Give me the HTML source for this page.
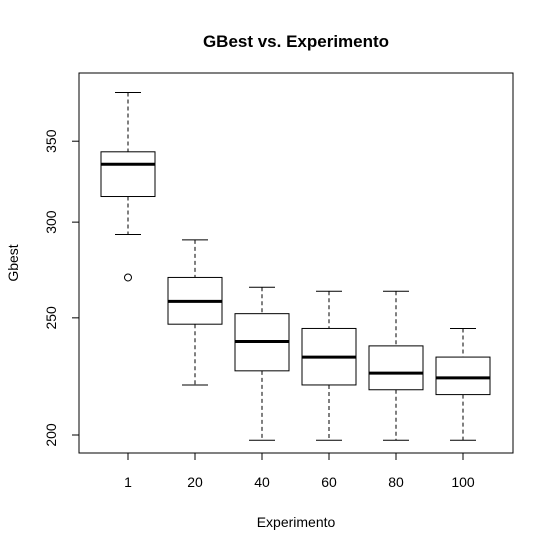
<!DOCTYPE html>
<html><head><meta charset="utf-8"><style>
body{margin:0;background:#fff;}
svg{display:block;font-family:"Liberation Sans",Arial,sans-serif;}
</style></head><body>
<svg id="chart" width="553" height="552" xmlns="http://www.w3.org/2000/svg">
<rect width="553" height="552" fill="#fff"/>
<text x="296" y="47" text-anchor="middle" font-size="17" font-weight="bold">GBest vs. Experimento</text>
<rect x="79" y="73" width="434" height="380" fill="none" stroke="#000"/>
<text x="296" y="527" text-anchor="middle" font-size="14">Experimento</text>
<text transform="translate(18,263) rotate(-90)" text-anchor="middle" font-size="14">Gbest</text>
<g id="g"></g>
</svg>
<script>
const categories=["1","20","40","60","80","100"];
const whiskHi=[384,290,265,263,263,245];
const q3=[343,270,252,245,237,232];
const med=[335,258,239,232,225,223];
const q1=[315,247,226,220,218,216];
const whiskLo=[293,220,198,198,198,198];
const outliers=[[270],[],[],[],[],[]];
const yTicks=[200,250,300,350];
const ns="http://www.w3.org/2000/svg";
const g=document.getElementById('g');
function y(v){return 435-525*Math.log(v/200);}
function x(i){return 128+67*i;}
function mk(t,a){const e=document.createElementNS(ns,t);for(const k in a)e.setAttribute(k,a[k]);g.appendChild(e);return e;}
yTicks.forEach(v=>{
 const l=mk('line',{x1:72,x2:79,y1:y(v),y2:y(v),stroke:'#000'});
 
 
 const t=mk('text',{transform:`translate(56,${y(v)}) rotate(-90)`,'text-anchor':'middle','font-size':'14'});
 t.textContent=v;
 
 
});
categories.forEach((c,i)=>{
 const cx=x(i),hw=27;
 const tk=mk('line',{x1:cx,x2:cx,y1:453,y2:460,stroke:'#000'});
 
 
 const t=mk('text',{x:cx,y:487,'text-anchor':'middle','font-size':'14'});
 t.textContent=c;
 
 
 const w1=mk('line',{x1:cx,x2:cx,y1:y(whiskHi[i]),y2:y(q3[i]),stroke:'#000','stroke-dasharray':'4,3'});
 
 
 const w2=mk('line',{x1:cx,x2:cx,y1:y(q1[i]),y2:y(whiskLo[i]),stroke:'#000','stroke-dasharray':'4,3'});
 
 
 const c1=mk('line',{x1:cx-13,x2:cx+13,y1:y(whiskHi[i]),y2:y(whiskHi[i]),stroke:'#000'});
 
 
 const c2=mk('line',{x1:cx-13,x2:cx+13,y1:y(whiskLo[i]),y2:y(whiskLo[i]),stroke:'#000'});
 
 
 const b=mk('rect',{x:cx-hw,y:y(q3[i]),width:2*hw,height:y(q1[i])-y(q3[i]),fill:'#fff',stroke:'#000'});
 
 
 const m=mk('line',{x1:cx-hw,x2:cx+hw,y1:y(med[i]),y2:y(med[i]),stroke:'#000','stroke-width':3});
 
 
 outliers[i].forEach(o=>{
  const p=mk('circle',{cx:cx,cy:y(o),r:3.5,fill:'none',stroke:'#000'});
  
  
 });
});
</script>
</body></html>
